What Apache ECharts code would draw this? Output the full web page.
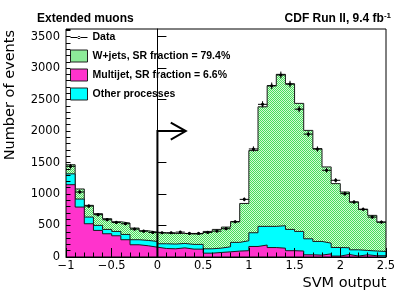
<!DOCTYPE html>
<html><head><meta charset="utf-8">
<script src="https://cdn.jsdelivr.net/npm/echarts@6/dist/echarts.min.js"></script>
<style>html,body{margin:0;padding:0;background:#fff}#c{width:407px;height:292px}</style>
</head><body><div id="c"></div>
<script>
// ---- data ----
const binLow = [-1.0,-0.9,-0.8,-0.7,-0.6,-0.5,-0.4,-0.3,-0.2,-0.1,0.0,0.1,0.2,0.3,0.4,0.5,0.6,0.7,0.8,0.9,1.0,1.1,1.2,1.3,1.4,1.5,1.6,1.7,1.8,1.9,2.0,2.1,2.2,2.3,2.4];
const binWidth = 0.1;
const multijet = [1148,793,528,422,369,337,274,194,178,156,135,130,145,125,125,61,72,82,94,100,167,190,150,140,100,95,35,30,50,15,40,15,35,20,20];
const otherProc = [172,127,106,80,69,69,84,80,85,91,75,75,70,75,75,69,69,80,138,158,218,296,336,357,338,311,254,217,170,136,106,99,69,75,68];
const wjets = [145,160,186,186,170,154,181,185,154,148,170,167,160,165,168,276,297,313,328,592,1305,1899,2234,2403,2312,2033,1721,1473,1210,1014,886,759,652,566,466];
const dataCounts = [1440,1032,809,672,592,549,528,443,410,390,385,385,395,374,374,390,411,449,560,915,1715,2424,2718,2890,2745,2347,1951,1714,1377,1218,1006,873,758,634,554];
const yTicks = [0,500,1000,1500,2000,2500,3000,3500];
const xTicks = [-1,-0.5,0,0.5,1,1.5,2,2.5];
const seriesNames = ['Data','W+jets, SR fraction = 79.4%','Multijet, SR fraction = 6.6%','Other processes'];
const cutValue = 0, arrowLevel = 2000, arrowTip = 0.31;
const yMax = 3620;

// ---- derived ----
const cyanTop = multijet.map((m,i)=>m+otherProc[i]);
const totalTop = cyanTop.map((c,i)=>c+wjets[i]);
function stepData(vals){
  const pts = binLow.map((x,i)=>[x, vals[i]]);
  const n = binLow.length-1;
  pts.push([+(binLow[n]+binWidth).toFixed(2), vals[n]]);
  return pts;
}
const pc = document.createElement('canvas'); pc.width=2; pc.height=2;
const g = pc.getContext('2d');
g.fillStyle='#d6f9d6'; g.fillRect(0,0,2,2);
g.fillStyle='#45de5c'; g.fillRect(0,0,1,1); g.fillRect(1,1,1,1);
const greenPattern = {image: pc, repeat: 'repeat'};
const MAG='#ff33cc', CYA='#00ffff';
const TF='"DejaVu Sans", sans-serif';
const BF='"Liberation Sans", Arial, sans-serif';

const chart = echarts.init(document.getElementById('c'), null, {renderer:'canvas'});
function areaSeries(name, vals, color, z){
  return {name, type:'line', step:'end', data:stepData(vals), symbol:'none', silent:true,
    lineStyle:{color:'#1a1a1a', width:1}, itemStyle:{color:color},
    areaStyle:{color:color, opacity:1}, z:z, emphasis:{disabled:true}, animation:false};
}
chart.setOption({
  animation:false,
  grid:{left:66, right:21, top:29, bottom:35, show:true, borderColor:'#000', borderWidth:1, backgroundColor:'transparent', z:10},
  xAxis:{type:'value', min:xTicks[0], max:xTicks[xTicks.length-1], interval:0.5, z:10,
    axisLine:{lineStyle:{color:'#000', width:1}},
    axisTick:{inside:true, length:9, lineStyle:{color:'#000'}},
    minorTick:{show:true, splitNumber:5, length:4.5, lineStyle:{color:'#000'}},
    splitLine:{show:false},
    axisLabel:{fontFamily:TF, fontSize:11.5, color:'#000', margin:3,
      formatter:v=>String(v).replace('-', '\u2212')}},
  yAxis:[{type:'value', min:yTicks[0], max:yMax, interval:500, z:10,
    axisLine:{show:true, lineStyle:{color:'#000', width:1}},
    axisTick:{show:true, inside:true, length:9, lineStyle:{color:'#000'}},
    splitLine:{show:false},
    axisLabel:{fontFamily:TF, fontSize:11.5, color:'#000', margin:6, showMaxLabel:false,
      formatter:v=>String(v)}},
   {type:'value', min:0, max:yMax, interval:100, position:'left', z:10,
    axisLine:{show:false}, axisTick:{show:true, inside:true, length:4.5, lineStyle:{color:'#000'}},
    axisLabel:{show:false}, splitLine:{show:false}}],
  legend:{orient:'vertical', left:70, top:31.5, padding:0, itemWidth:17, itemHeight:12, itemGap:6,
    selectedMode:false, symbolKeepAspect:true,
    textStyle:{fontFamily:BF, fontWeight:'bold', fontSize:10.5, color:'#000', lineHeight:12},
    data:[
      {name:seriesNames[0], icon:'path://M0,5.5h17v1h-17z M7,6a1.5,1.5 0 1 0 3 0a1.5,1.5 0 1 0 -3 0z', itemStyle:{color:'#000', borderWidth:0}},
      {name:seriesNames[1], icon:'rect', itemStyle:{color:greenPattern, borderColor:'#222', borderWidth:1}},
      {name:seriesNames[2], icon:'rect', itemStyle:{color:MAG, borderColor:'#222', borderWidth:1}},
      {name:seriesNames[3], icon:'rect', itemStyle:{color:CYA, borderColor:'#222', borderWidth:1}}
    ]},
  graphic:[
    {type:'text', x:37, y:18.5, style:{text:'Extended muons', font:'bold 12px '+BF, fill:'#000', textVerticalAlign:'middle'}},
    {type:'text', x:391, y:18.5, style:{text:'{a|CDF Run II, 9.4 fb}{b|-1}', textAlign:'right', textVerticalAlign:'middle',
      rich:{a:{fontFamily:BF, fontWeight:'bold', fontSize:12, fill:'#000', lineHeight:14}, b:{fontFamily:BF, fontWeight:'bold', fontSize:8, fill:'#000', verticalAlign:'top', lineHeight:14}}}},
    {type:'text', x:10, y:30, rotation:Math.PI/2, style:{text:'Number of events', font:'14.5px '+TF, fill:'#000', textAlign:'right', textVerticalAlign:'middle'}},
    {type:'text', x:386.5, y:283, style:{text:'SVM output', font:'14.5px '+TF, fill:'#000', textAlign:'right', textVerticalAlign:'middle'}}
  ],
  series:[
    areaSeries(seriesNames[1], totalTop, greenPattern, 1),
    areaSeries(seriesNames[3], cyanTop, CYA, 2),
    areaSeries(seriesNames[2], multijet, MAG, 3),
    {name:seriesNames[0], type:'custom', coordinateSystem:'cartesian2d', z:5, silent:true,
      itemStyle:{color:'#000'},
      encode:{x:0, y:1},
      data: binLow.map((x,i)=>[+(x+binWidth/2).toFixed(3), dataCounts[i]]),
      renderItem:(params, api)=>{
        const x = api.value(0), n = api.value(1), e = Math.sqrt(n);
        const L = api.coord([x-binWidth/2, n]), R = api.coord([x+binWidth/2, n]);
        const T = api.coord([x, n+e]), B = api.coord([x, n-e]);
        const C = api.coord([x, n]);
        const st = {stroke:'#000', lineWidth:1};
        return {type:'group', children:[
          {type:'line', shape:{x1:L[0], y1:L[1], x2:R[0], y2:R[1]}, style:st},
          {type:'line', shape:{x1:T[0], y1:T[1], x2:B[0], y2:B[1]}, style:st},
          {type:'circle', shape:{cx:C[0], cy:C[1], r:1.6}, style:{fill:'#000'}}
        ]};
      }},
    {type:'custom', coordinateSystem:'cartesian2d', z:6, silent:true,
      data:[[cutValue, arrowLevel, arrowTip]], encode:{x:0, y:1},
      renderItem:(params, api)=>{
        const p0 = api.coord([api.value(0), 0]);
        const p1 = api.coord([api.value(0), api.value(1)]);
        const p2 = api.coord([api.value(2), api.value(1)]);
        const st = {stroke:'#000', lineWidth:2, fill:null};
        return {type:'group', children:[
          {type:'polyline', shape:{points:[p0,p1,p2]}, style:st},
          {type:'polyline', shape:{points:[[p2[0]-15,p2[1]-8.5],[p2[0],p2[1]],[p2[0]-15,p2[1]+8.5]]}, style:st}
        ]};
      }}
  ]
});
</script></body></html>
